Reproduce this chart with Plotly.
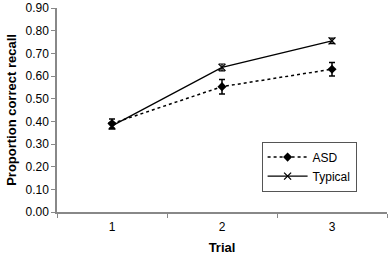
import plotly.graph_objects as go

trials = ["1", "2", "3"]
asd_vals = [0.39, 0.553, 0.630]
asd_err = [0.02, 0.032, 0.030]
typ_vals = [0.38, 0.638, 0.755]
typ_err = [0.015, 0.015, 0.012]

font = "Liberation Sans, Arial, sans-serif"

fig = go.Figure()
fig.add_trace(go.Scatter(
    x=trials, y=asd_vals, name="ASD", mode="lines+markers",
    line=dict(color="black", width=1.5, dash="dot"),
    marker=dict(symbol="diamond", size=7, color="black"),
    error_y=dict(type="data", array=asd_err, color="black", thickness=1.5, width=3),
))
fig.add_trace(go.Scatter(
    x=trials, y=typ_vals, name="Typical", mode="lines+markers",
    line=dict(color="black", width=1.3),
    marker=dict(symbol="x-thin", size=7, color="black", line=dict(color="black", width=1.3)),
    error_y=dict(type="data", array=typ_err, color="black", thickness=1.2, width=3),
))

fig.update_layout(
    width=388, height=255,
    margin=dict(l=57, r=1, t=8, b=43),
    plot_bgcolor="white", paper_bgcolor="white",
    font=dict(family=font, size=12, color="black"),
    showlegend=True,
    legend=dict(
        x=0.62, y=0.345, xanchor="left", yanchor="top",
        bordercolor="#555", borderwidth=1, bgcolor="white",
        font=dict(size=12), tracegroupgap=2, itemwidth=40,
    ),
    xaxis=dict(
        type="category", tickson="boundaries", ticks="outside", ticklen=4,
        tickcolor="#888", showline=True, linecolor="#888", linewidth=1.5,
        showgrid=False, range=[-0.5, 2.5], automargin=False,
        tickfont=dict(size=12), ticklabelstandoff=3,
        title=dict(text="<b>Trial</b>", font=dict(size=13), standoff=10),
    ),
    yaxis=dict(
        range=[0, 0.9], tickvals=[i / 10 for i in range(10)], tickformat=".2f",
        ticks="outside", ticklen=4, tickcolor="#888", automargin=False,
        showline=True, linecolor="#888", linewidth=1.5, showgrid=False,
        zeroline=False, tickfont=dict(size=12),
        title=dict(text="<b>Proportion correct recall</b>", font=dict(size=13), standoff=6),
    ),
)

fig.write_html("out.html", config={"displayModeBar": False},
               post_script="document.body.style.margin='0';")
